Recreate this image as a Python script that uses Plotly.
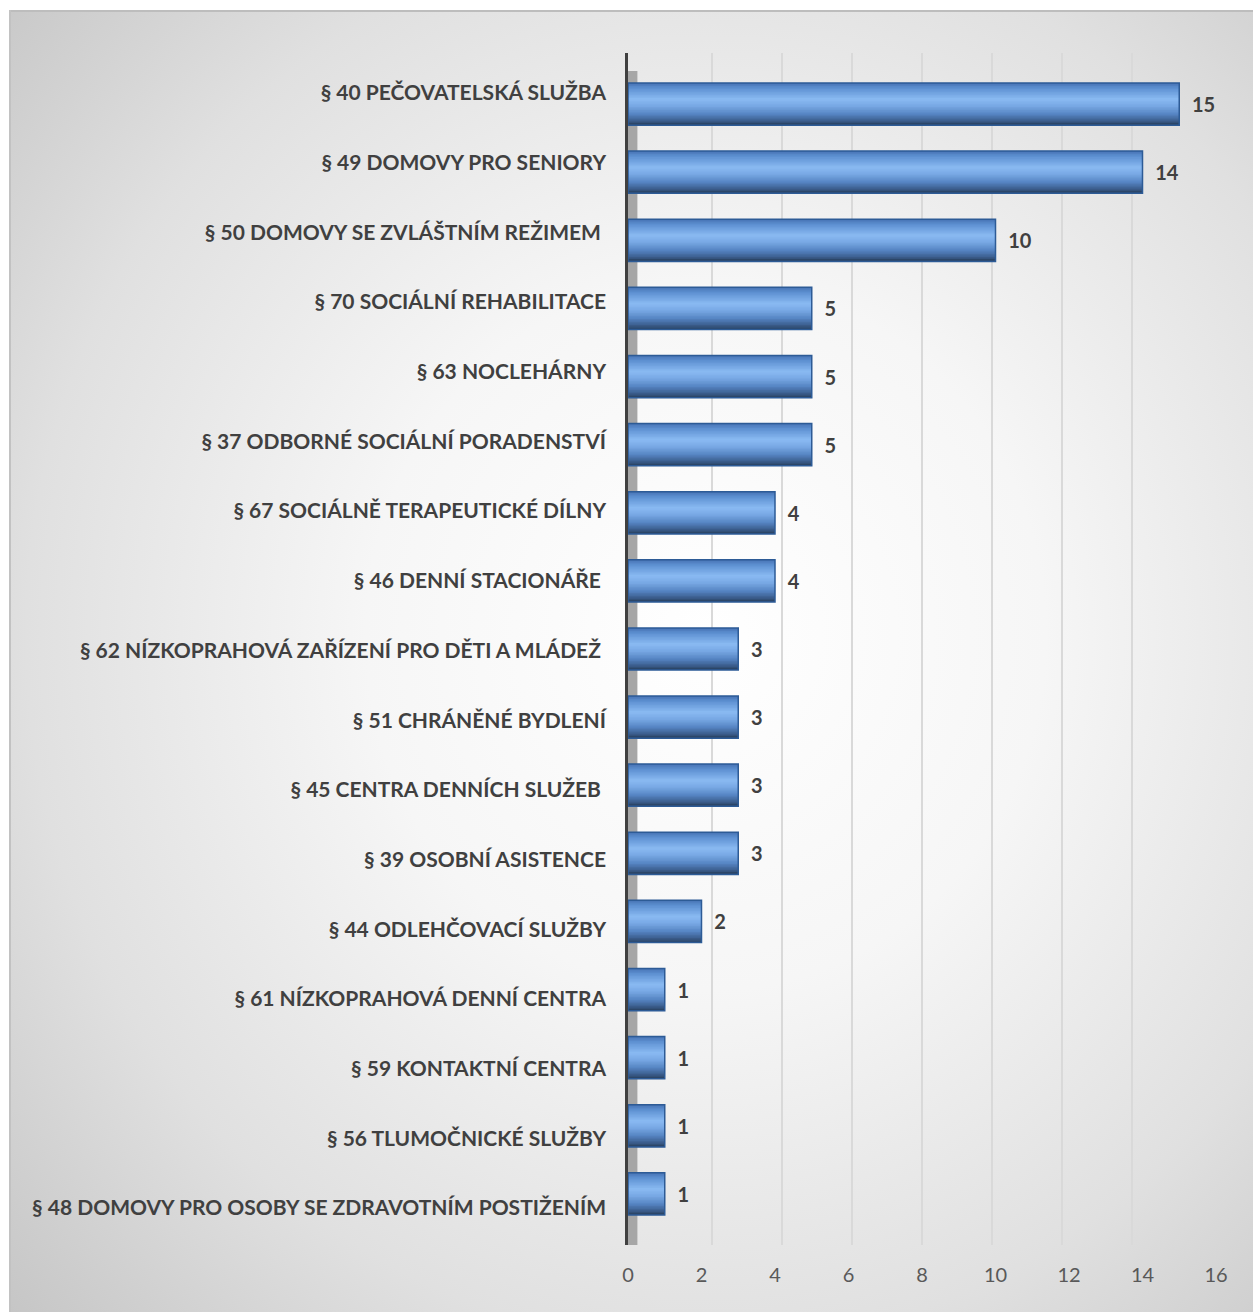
import plotly.graph_objects as go
import urllib.parse

categories = [
    "§ 40 PEČOVATELSKÁ SLUŽBA",
    "§ 49 DOMOVY PRO SENIORY",
    "§ 50 DOMOVY SE ZVLÁŠTNÍM REŽIMEM ",
    "§ 70 SOCIÁLNÍ REHABILITACE",
    "§ 63 NOCLEHÁRNY",
    "§ 37 ODBORNÉ SOCIÁLNÍ PORADENSTVÍ",
    "§ 67 SOCIÁLNĚ TERAPEUTICKÉ DÍLNY",
    "§ 46 DENNÍ STACIONÁŘE ",
    "§ 62 NÍZKOPRAHOVÁ ZAŘÍZENÍ PRO DĚTI A MLÁDEŽ ",
    "§ 51 CHRÁNĚNÉ BYDLENÍ",
    "§ 45 CENTRA DENNÍCH SLUŽEB ",
    "§ 39 OSOBNÍ ASISTENCE",
    "§ 44 ODLEHČOVACÍ SLUŽBY",
    "§ 61 NÍZKOPRAHOVÁ DENNÍ CENTRA",
    "§ 59 KONTAKTNÍ CENTRA",
    "§ 56 TLUMOČNICKÉ SLUŽBY",
    "§ 48 DOMOVY PRO OSOBY SE ZDRAVOTNÍM POSTIŽENÍM",
]
values = [15, 14, 10, 5, 5, 5, 4, 4, 3, 3, 3, 3, 2, 1, 1, 1, 1]
x_ticks = [0, 2, 4, 6, 8, 10, 12, 14, 16]

W, H = 1253, 1312
FONT = "Lato"
positions = list(range(len(categories)))

fig = go.Figure()

# background radial gradient panel
svg = (
    '<svg xmlns="http://www.w3.org/2000/svg" width="1244" height="1302" viewBox="0 0 1244 1302" preserveAspectRatio="none">'
    '<defs><radialGradient id="g" cx="0.56" cy="0.48" r="0.78">'
    '<stop offset="0" stop-color="#ffffff"/>'
    '<stop offset="0.35" stop-color="#f6f6f6"/>'
    '<stop offset="0.7" stop-color="#e0e0e0"/>'
    '<stop offset="1" stop-color="#c4c4c4"/>'
    '</radialGradient></defs>'
    '<rect width="1244" height="1302" fill="url(#g)"/>'
    '<rect x="0" y="0" width="1244" height="2" fill="#bdbdbd"/>'
    '<rect x="0" y="0" width="2" height="1302" fill="#c2c2c2"/>'
    '</svg>'
)
src = "data:image/svg+xml;charset=utf-8," + urllib.parse.quote(svg)
fig.add_layout_image(dict(source=src, xref="paper", yref="paper", x=9 / W, y=1 - 10 / H,
                          sizex=1 - 9 / W, sizey=1 - 10 / H, sizing="stretch",
                          xanchor="left", yanchor="top", layer="below"))

# back-plane grid (subplot x/y)
fig.add_trace(go.Scatter(x=[0, 16], y=[0, 1], xaxis="x", yaxis="y", mode="markers",
                         marker=dict(opacity=0), hoverinfo="skip", showlegend=False))


def hex2rgb(h):
    return [int(h[i:i + 2], 16) for i in (1, 3, 5)]


# cylinder shading anchors (top -> bottom of the bar)
anchors = [(0.0, "#4a77b8"), (0.12, "#5f92d3"), (0.38, "#8abaf2"), (0.55, "#78a8e4"),
           (0.75, "#5584c2"), (0.9, "#3d6091"), (1.0, "#2c4668")]
NB = 28
BW = 0.62
for i in range(NB):
    t = i / (NB - 1)
    for k in range(len(anchors) - 1):
        if anchors[k][0] <= t <= anchors[k + 1][0]:
            a0, c0 = anchors[k]
            a1, c1 = anchors[k + 1]
            f = (t - a0) / (a1 - a0) if a1 > a0 else 0
            r = [round(p + (q - p) * f) for p, q in zip(hex2rgb(c0), hex2rgb(c1))]
            break
    start = -BW / 2 + i * BW / NB
    fig.add_trace(go.Bar(x=values, y=positions, orientation="h", xaxis="x2", yaxis="y2",
                         width=BW / 2 - start, offset=start,
                         marker=dict(color=f"rgb({r[0]},{r[1]},{r[2]})", line=dict(width=0)),
                         hoverinfo="skip", showlegend=False))

# outline + value labels
fig.add_trace(go.Bar(x=values, y=positions, orientation="h", xaxis="x2", yaxis="y2",
                     width=BW, offset=-BW / 2,
                     marker=dict(color="rgba(0,0,0,0)", line=dict(color="#2d5b96", width=1.5)),
                     text=[f"\u00a0\u00a0{v}" for v in values], textposition="outside",
                     textfont=dict(family=FONT, size=20, color="#404040", weight="bold"),
                     cliponaxis=False, hoverinfo="skip", showlegend=False))

# category label axis
fig.add_trace(go.Scatter(x=[0] * len(categories), y=positions, xaxis="x2", yaxis="y3",
                         mode="markers", marker=dict(opacity=0), hoverinfo="skip",
                         showlegend=False))

dom_y = [1 - 1245 / H, 1 - 53 / H]
fig.update_layout(
    width=W, height=H,
    margin=dict(l=0, r=0, t=0, b=0, autoexpand=False),
    paper_bgcolor="white", plot_bgcolor="rgba(0,0,0,0)",
    barmode="overlay",
    xaxis=dict(domain=[642 / W, 1202 / W], range=[0, 16], tickvals=x_ticks, showgrid=True,
               gridcolor="#d9d9d9", gridwidth=1.5, showticklabels=False, zeroline=False,
               showline=False, anchor="y", automargin=False),
    yaxis=dict(domain=dom_y, range=[0, 1], visible=False, anchor="x", automargin=False),
    xaxis2=dict(domain=[628 / W, 1216 / W], range=[0, 16], tickvals=x_ticks, showgrid=False,
                zeroline=False, showline=False, anchor="y2", ticks="outside", ticklen=12,
                tickcolor="rgba(0,0,0,0)", automargin=False,
                tickfont=dict(family=FONT, size=20, color="#595959")),
    yaxis2=dict(domain=dom_y, range=[16.75, -0.75], showgrid=False, zeroline=False,
                showline=True, linecolor="#404040", linewidth=3, showticklabels=False,
                anchor="x2", automargin=False),
    yaxis3=dict(domain=[1 - 1242.8 / H, 1 - 58.2 / H], range=[16.5, -0.5], anchor="x2",
                tickvals=positions,
                ticktext=[c.replace(" ", "\u00a0") if c.endswith(" ") else c for c in categories],
                showgrid=False, zeroline=False, showline=False, ticks="",
                ticklabelstandoff=21, automargin=False,
                tickfont=dict(family=FONT, size=21, color="#404040", weight="bold")),
    shapes=[dict(type="rect", xref="x2 domain", yref="y2 domain", x0=0, x1=0.016, y0=0,
                 y1=0.985, fillcolor="#a6a6a6", line=dict(width=0), layer="below")],
)

fig.write_html("out.html", config={"displayModeBar": False},
               post_script="document.body.style.margin='0px';")
